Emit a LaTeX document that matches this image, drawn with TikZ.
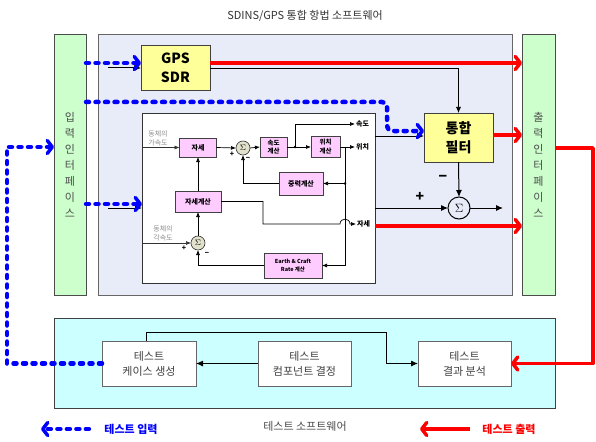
\documentclass[tikz,border=0pt]{standalone}
\usepackage{fontspec}
\setmainfont{Noto Sans CJK KR}
\usetikzlibrary{arrows.meta}
\definecolor{mainfill}{RGB}{231,236,248}
\definecolor{ifgreen}{RGB}{204,255,204}
\definecolor{cyanfill}{RGB}{204,255,255}
\definecolor{yfill}{RGB}{255,255,153}
\definecolor{pinkc}{RGB}{255,204,255}
\definecolor{sumc}{RGB}{226,226,204}
\definecolor{blueline}{RGB}{0,0,255}
\definecolor{redline}{RGB}{255,0,0}
\begin{document}
\begin{tikzpicture}[x=1pt,y=-1pt,
  frame/.style={draw=black!60, line width=0.8pt, inner sep=0pt, outer sep=0pt},
  iface/.style={frame, fill=ifgreen, draw=black!70, text=black!70, align=center, font=\fontsize{11}{16}\selectfont},
  yboxs/.style={draw=black!75, line width=0.8pt, fill=yfill, inner sep=0pt, outer sep=0pt, align=center, font=\bfseries\fontsize{14}{19}\selectfont},
  pbox/.style={draw=black!75, line width=0.7pt, fill=pinkc, inner sep=0pt, outer sep=0pt, align=center, font=\bfseries\fontsize{7}{9}\selectfont},
  ssum/.style={circle, draw=black!80, fill=sumc, line width=0.6pt, minimum size=14pt, inner sep=0pt, outer sep=0pt, font=\fontsize{8}{8}\selectfont},
  wbox/.style={draw=black!60, fill=white, line width=0.8pt, inner sep=0pt, outer sep=0pt, align=center, text=black!75, font=\fontsize{11}{15}\selectfont},
  arsm/.style={line width=0.7pt, -{Latex[length=5pt,width=4pt]}},
  armd/.style={line width=1pt, -{Latex[length=7pt,width=6pt]}},
  bdot/.style={draw=blueline, line width=4.5pt, dash pattern=on 3pt off 6.5pt, line cap=round, line join=round},
  btip/.style={-{Straight Barb[round,length=5pt,width=13pt,line width=3.5pt]}},
  rline/.style={draw=redline, line width=3.5pt, line join=round},
  rtip/.style={-{Straight Barb[round,length=5pt,width=13pt]}},
  glab/.style={text=black!45, font=\fontsize{7}{9}\selectfont, align=left, inner sep=0pt},
  olab/.style={font=\bfseries\fontsize{7}{8}\selectfont, anchor=west, inner sep=1pt},
  jdot/.style={circle, fill=black, inner sep=0pt, minimum size=2.6pt},
  pm/.style={font=\bfseries\fontsize{7}{7}\selectfont, inner sep=0pt},
  bpm/.style={font=\bfseries\fontsize{14}{14}\selectfont, inner sep=0pt},
]
\useasboundingbox (0,0) rectangle (596,441);

% title
\node[text=black!80, font=\fontsize{11}{13}\selectfont] (ttl) at (305,16) {SDINS/GPS 통합 항법 소프트웨어};

% main frames
\node[frame, fill=mainfill, minimum width=414pt, minimum height=261pt] (main) at (305,164.5) {};
\node[iface, minimum width=32pt, minimum height=261pt] (inL) at (70,164.5) {입\\력\\인\\터\\페\\이\\스};
\node[iface, minimum width=33pt, minimum height=261pt] (outR) at (538.5,164.5) {출\\력\\인\\터\\페\\이\\스};
\node[yboxs, minimum width=69pt, minimum height=45pt] (gps) at (175.5,67.5) {GPS\\SDR};
\node[yboxs, minimum width=69pt, minimum height=49pt] (filt) at (458.5,137.5) {통합\\필터};
\node[draw=black!80, line width=0.8pt, fill=white, minimum width=233pt, minimum height=170pt, inner sep=0pt, outer sep=0pt] (inner) at (258.5,198) {};
\node[circle, draw=black, line width=1pt, fill=mainfill, minimum size=22pt, inner sep=0pt, outer sep=0pt] (bsum) at (459,208) {\large$\Sigma$};

% inner blocks
\node[pbox, minimum width=37pt, minimum height=19pt] (ja) at (198,147.5) {자세};
\node[ssum] (s1) at (243,148) {$\Sigma$};
\node[pbox, minimum width=27pt, minimum height=20pt, font=\bfseries\fontsize{6.5}{8.5}\selectfont] (vel) at (273.5,147) {속도\\계산};
\node[pbox, minimum width=29pt, minimum height=21pt, font=\bfseries\fontsize{6.5}{8.5}\selectfont] (pos) at (325.5,146.5) {위치\\계산};
\node[pbox, minimum width=44pt, minimum height=23pt] (grav) at (301,183.5) {중력계산};
\node[pbox, minimum width=46pt, minimum height=21pt] (jc) at (198,201.5) {자세계산};
\node[ssum] (s2) at (198,243) {$\Sigma$};
\node[pbox, minimum width=58pt, minimum height=25pt, font=\bfseries\fontsize{5.5}{8}\selectfont] (earth) at (293,265.5) {Earth \& Craft\\Rate 계산};

\node[glab] (l1) at (158,138) {동체의\\가속도};
\node[glab] (l2) at (163,233) {동체의\\각속도};

% inner connections
\draw[line width=0.6pt, draw=black!80, -{Latex[length=5pt,width=4pt]}] (inner.west |- ja) -- (ja.west);
\draw[arsm] (ja.east) -- (s1.west);
\draw[arsm] (s1.east) -- (vel.west);
\coordinate (d1) at (295,147);
\draw[arsm] (vel.east |- d1) -- (pos.west |- d1);
\node[jdot] (dd1) at (d1) {};
\node[olab] (lv) at (355,124) {속도};
\node[olab] (lp) at (355,147) {위치};
\node[olab] (la) at (356,224) {자세};
\draw[arsm] (d1) |- (lv.west);
\draw[arsm] (pos.east |- lp) -- (lp.west);
\coordinate (d2) at (345,147);
\coordinate (d3) at (345,265.5);
\draw[line width=0.7pt] (d2) -- (d3);
\node[jdot] (dd2) at (345,183.5) {};
\draw[arsm] (dd2) -- (grav.east);
\draw[arsm] (d3) -- (earth.east);
\draw[arsm] (grav.west) -| (s1.south);
\draw[arsm] (jc.north) -- (ja.south);
\draw[arsm] (jc.east) -- (263,201.5) -- (263,224) -- (340,224) .. controls (340,217.5) and (350,217.5) .. (350,224) -- (la.west);
\draw[line width=0.6pt, draw=black!80, -{Latex[length=5pt,width=4pt]}] (inner.west |- s2) -- (s2.west);
\draw[arsm] (s2.north) -- (jc.south);
\draw[arsm] (earth.west) -| (s2.south);
\node[pm] at (232,154) {+};
\node[pm] at (248,159) {−};
\node[pm] at (184,248) {+};
\node[pm] at (207,254) {−};

% outer black connections
\coordinate (k1) at (108,68);
\coordinate (k2) at (108,208);
\draw[armd] (k1) -- (gps.west |- k1);
\draw[armd] (k2) -- (inner.west |- k2);
\draw[line width=0.7pt, -{Latex[length=6pt,width=5pt]}] (gps.east |- 0,68) -| (filt.north);
\draw[armd] (inner.east |- 0,136) -- (filt.west |- 0,136);
\draw[armd] (inner.east |- bsum) -- (bsum.west);
\draw[armd] (filt.south) -- (bsum.north);
\coordinate (so) at (503,208);
\draw[armd] (bsum.east) -- (so);
\node[bpm] (plus) at (420,197) {+};
\node[bpm] (minus) at (443,178) {−};

% blue dotted inputs
\draw[bdot, btip] (inL.east |- 0,63) -- (gps.west |- 0,63);
\draw[bdot, btip, rounded corners=5pt] (inL.east |- 0,102) -- (387,102) -- (387,131) -- (filt.west |- 0,131);
\draw[bdot, btip] (inL.east |- 0,204) -- (inner.west |- 0,204);

% red outputs
\draw[rline, rtip] (gps.east |- 0,63) -- (outR.west |- 0,63);
\draw[rline, rtip] (filt.east |- 0,135) -- (outR.west |- 0,135);
\draw[rline, rtip] (inner.east |- 0,226) -- (outR.west |- 0,226);

% test software
\node[frame, fill=cyanfill, draw=black!75, minimum width=501pt, minimum height=90pt] (cyan) at (304.5,363) {};
\node[wbox, minimum width=94pt, minimum height=45pt] (tc) at (149,363.5) {테스트\\케이스 생성};
\node[wbox, minimum width=93pt, minimum height=45pt] (tcomp) at (304.5,363.5) {테스트\\컴포넌트 결정};
\node[wbox, minimum width=93pt, minimum height=45pt] (tres) at (464.5,363.5) {테스트\\결과 분석};
\draw[armd] (tcomp.west) -- (tc.east);
\draw[armd] ([xshift=-3pt]tc.north) |- (386,332) |- (tres.west);

\draw[bdot, btip] (tc.west) -- (7,363.5) -- (7,147) -- (inL.west |- 0,147);
\draw[rline, rtip] (outR.east |- 0,148) -- (593,148) -- (593,363.5) -- (tres.east);

% legend
\node[text=black!70, font=\fontsize{11}{13}\selectfont] (lgs) at (305,426) {테스트 소프트웨어};
\node[text=blueline, font=\bfseries\fontsize{11}{13}\selectfont] (lgin) at (131,429) {테스트 입력};
\node[text=redline, font=\bfseries\fontsize{11}{13}\selectfont] (lgout) at (509,429) {테스트 출력};
\draw[bdot, btip] ([xshift=-12pt]lgin.west) -- (41,429);
\draw[rline, rtip] ([xshift=-9pt]lgout.west) -- (420,429);
\end{tikzpicture}
\end{document}
